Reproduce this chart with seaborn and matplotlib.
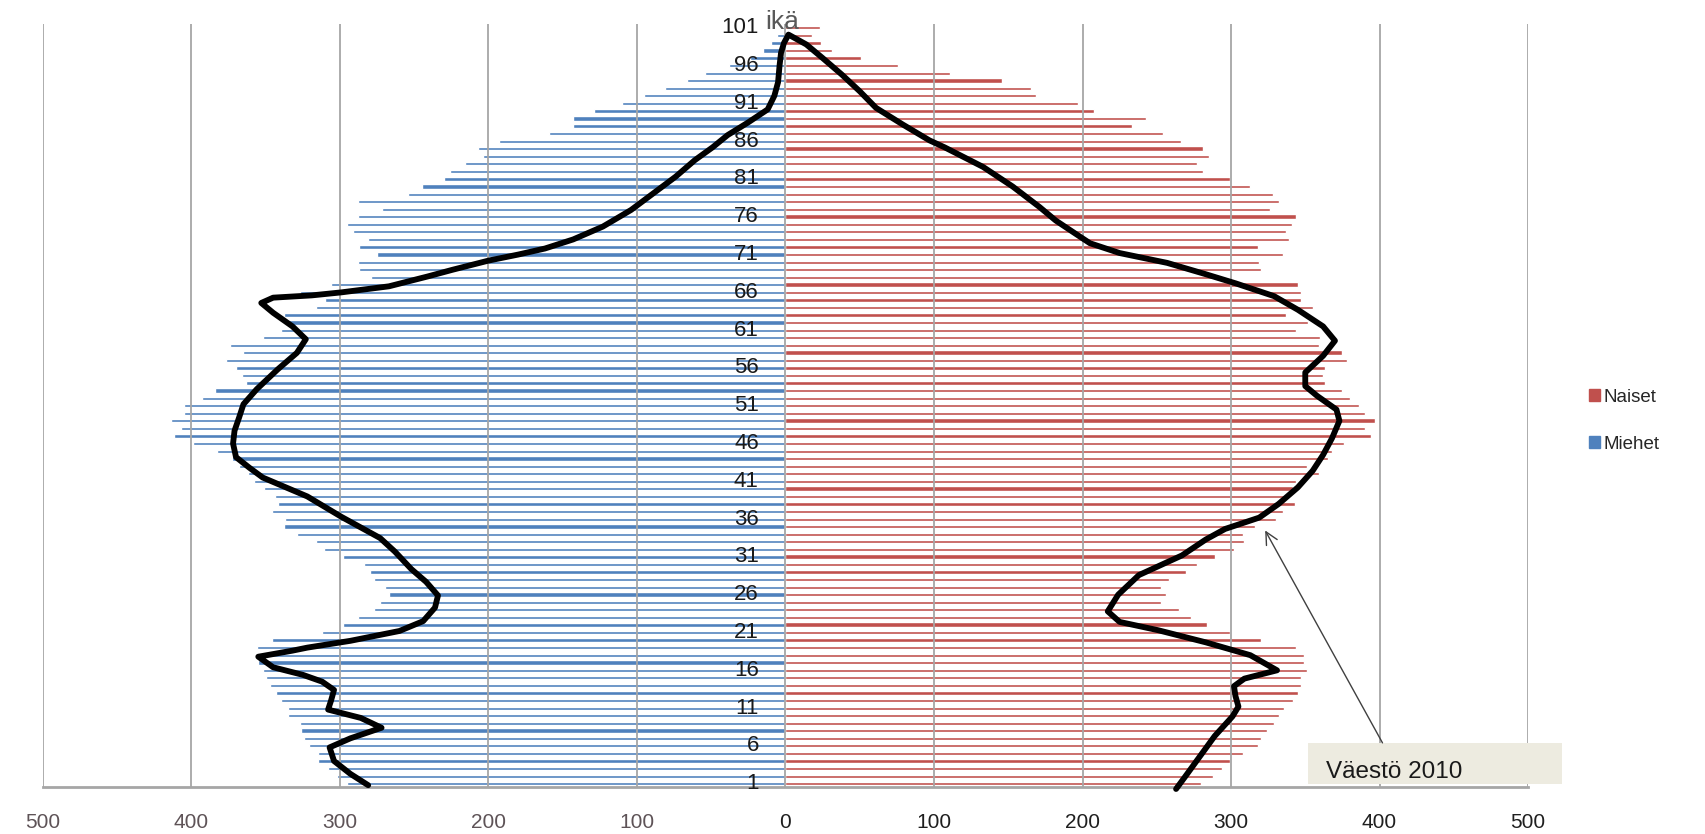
import numpy as np
import pandas as pd
import matplotlib
matplotlib.use("Agg")
import matplotlib.pyplot as plt
import matplotlib.transforms as mtransforms
import seaborn as sns
from matplotlib.patches import Patch, Rectangle

# ikäryhmät 1..101
ages = np.arange(1, 102)

miehet = [295, 302, 308, 315, 315, 321, 324, 326, 327, 335,
          335, 340, 343, 347, 350, 352, 355, 353, 356, 346,
          312, 298, 288, 277, 273, 267, 270, 277, 280, 284,
          298, 311, 316, 329, 338, 337, 346, 342, 344, 351,
          358, 362, 368, 373, 383, 399, 412, 407, 414, 405,
          405, 393, 384, 363, 366, 370, 377, 365, 374, 352,
          340, 337, 338, 316, 310, 327, 306, 279, 287, 288,
          275, 287, 281, 291, 295, 288, 272, 288, 254, 245,
          230, 226, 216, 204, 207, 193, 159, 143, 143, 129,
          110, 95, 81, 66, 54, 38, 24, 15, 10, 6, 2]

naiset = [280, 288, 294, 299, 308, 318, 320, 324, 329, 332,
          336, 342, 345, 347, 347, 351, 349, 349, 344, 320,
          299, 284, 273, 265, 253, 256, 253, 258, 270, 277,
          289, 302, 309, 308, 316, 330, 335, 343, 337, 342,
          344, 359, 351, 365, 368, 376, 394, 390, 397, 390,
          386, 380, 375, 363, 362, 363, 378, 375, 359, 360,
          344, 352, 337, 355, 347, 347, 345, 296, 320, 319,
          335, 318, 339, 337, 341, 344, 326, 332, 328, 313,
          299, 281, 277, 285, 281, 266, 254, 233, 243, 208,
          197, 169, 165, 146, 111, 76, 51, 31, 24, 18, 23]

# Väestö 2010 -käyrä (miehet negatiivisella puolella)
curve_x = [-281, -293, -304, -307, -293, -272, -286, -308, -306, -304,
           -312, -325, -345, -355, -332, -322, -293, -260, -244, -236,
           -234, -242, -252, -263, -273, -299, -322, -352, -361, -370,
           -372, -371, -368, -365, -356, -342, -329, -323, -332, -345,
           -353, -345, -319, -299, -267, -241, -224, -200, -180, -162,
           -143, -123, -104, -89, -74, -61, -49, -39, -25, -12,
           -7.5, -5, -4, -3, -1, 2,
           14, 25, 38, 50, 61, 79, 97, 107, 133, 153,
           171, 182, 195, 205, 225, 257, 283, 303, 329, 345,
           362, 370, 362, 350, 350, 358, 371, 373, 368, 362,
           355, 345, 332, 319, 296, 283, 267, 238, 224, 217,
           225, 251, 283, 313, 331, 309, 302, 303, 305, 301,
           289, 279, 269, 263]
curve_age = [0.8, 2.3, 4.0, 5.8, 7.0, 8.4, 9.7, 10.8, 12.0, 13.4,
             14.5, 15.4, 16.4, 17.8, 18.6, 19.0, 19.9, 21.2, 22.5, 24.3,
             25.9, 27.7, 29.4, 31.7, 33.5, 36.3, 39.0, 41.5, 42.8, 44.2,
             46.0, 47.7, 49.4, 51.2, 53.2, 55.8, 58.0, 59.8, 61.5, 63.3,
             64.6, 65.3, 65.6, 66.0, 66.8, 68.1, 69.0, 70.2, 71.0, 71.8,
             73.0, 74.7, 76.9, 79.1, 81.3, 83.5, 85.2, 86.8, 88.5, 90.2,
             92.0, 93.8, 96.0, 97.7, 99.0, 100.1,
             98.8, 97.0, 94.8, 92.6, 90.4, 88.2, 86.1, 85.2, 82.6, 80.0,
             77.3, 75.5, 73.8, 72.5, 71.2, 69.9, 68.4, 67.2, 65.5, 63.7,
             61.5, 59.6, 57.6, 55.4, 53.6, 52.3, 50.5, 49.0, 46.7, 44.5,
             42.4, 40.2, 38.0, 36.2, 34.7, 33.3, 31.2, 28.6, 26.0, 23.8,
             22.4, 21.3, 19.7, 18.0, 16.0, 14.9, 13.9, 12.6, 11.2, 9.9,
             7.3, 4.6, 1.9, 0.3]

x_ticks = [-500, -400, -300, -200, -100, 0, 100, 200, 300, 400, 500]
age_labels = list(range(1, 102, 5))

BLUE = "#4F81BD"
RED = "#C0504D"

sns.set_theme(style="white")
plt.rcParams["font.family"] = ["Liberation Sans", "DejaVu Sans"]

fig = plt.figure(figsize=(17.05, 8.34), dpi=100)
ax = fig.add_axes([0.0252, 0.0567, 0.8710, 0.9145])

df = pd.DataFrame({"ika": ages, "Miehet": [-v for v in miehet], "Naiset": naiset})
# Excelin kuvassa joka yhdeksäs palkki piirtyy paksumpana
thick = {"Miehet": df["ika"] % 9 == 8, "Naiset": df["ika"] % 9 == 4}

for col, color in [("Miehet", BLUE), ("Naiset", RED)]:
    thin_df = df[~thick[col]]
    thick_df = df[thick[col]]
    sns.barplot(data=thin_df, x=col, y="ika", orient="h", native_scale=True,
                width=0.42, color=color, saturation=1, errorbar=None, ax=ax)
    step = np.diff(thick_df["ika"]).min()
    sns.barplot(data=thick_df, x=col, y="ika", orient="h", native_scale=True,
                width=0.65 / step, color=color, saturation=1, errorbar=None, ax=ax)

curve = pd.DataFrame({"x": curve_x, "ika": curve_age})
sns.lineplot(data=curve, x="x", y="ika", sort=False, estimator=None,
             color="black", lw=4.2, ax=ax, zorder=4)
for line in ax.lines:
    line.set_clip_on(False)
    line.set_solid_joinstyle("round")
    line.set_solid_capstyle("round")

ax.set_xlim(-500, 500)
ax.set_ylim(0.6, 101.5)
ax.set_xticks(x_ticks)
ax.set_xticklabels([str(abs(t)) for t in x_ticks])
ax.set_yticks([])
ax.set_xlabel("")
ax.set_ylabel("")
ax.set_axisbelow("line")
ax.grid(axis="x", color="#a6a6a6", lw=1.3)
ax.grid(axis="y", visible=False)
for side in ["top", "right", "left"]:
    ax.spines[side].set_visible(False)
ax.spines["bottom"].set_color("#a6a6a6")
ax.spines["bottom"].set_linewidth(2)
ax.tick_params(axis="x", length=0, pad=19, labelsize=15)
for t, lbl in zip(x_ticks, ax.get_xticklabels()):
    lbl.set_color("#5e5357" if t < 0 else "#1f1f1f")

for a in age_labels:
    ax.text(-18, a, str(a), ha="right", va="center", fontsize=16,
            color="#1a1a1a", zorder=5)

trans = mtransforms.blended_transform_factory(ax.transData, ax.transAxes)
ax.text(-2, 1.003, "ikä", transform=trans, ha="center", va="center",
        fontsize=19, color="#595959")

# Väestö 2010 -selite
ax.add_patch(Rectangle((352, 0.9), 171, 5.5, facecolor="#EDEBE0",
                       edgecolor="none", clip_on=False, zorder=5))
ax.text(364, 2.6, "Väestö 2010", fontsize=17.5, color="#1a1a1a",
        ha="left", va="center", zorder=6)
ax.annotate("", xy=(323, 34.5), xytext=(402, 6.4),
            arrowprops=dict(arrowstyle="->", color="#404040", lw=1.0,
                            mutation_scale=22, shrinkA=0, shrinkB=0), zorder=6)

handles = [Patch(color=RED, label="Naiset"), Patch(color=BLUE, label="Miehet")]
fig.legend(handles=handles, loc="center left",
           bbox_to_anchor=(1572 / 1705, 1 - 421 / 834), frameon=False,
           fontsize=13.5, handlelength=0.6, handleheight=0.6,
           handletextpad=0.2, labelspacing=1.6)

fig.savefig("out.png", dpi=100)
